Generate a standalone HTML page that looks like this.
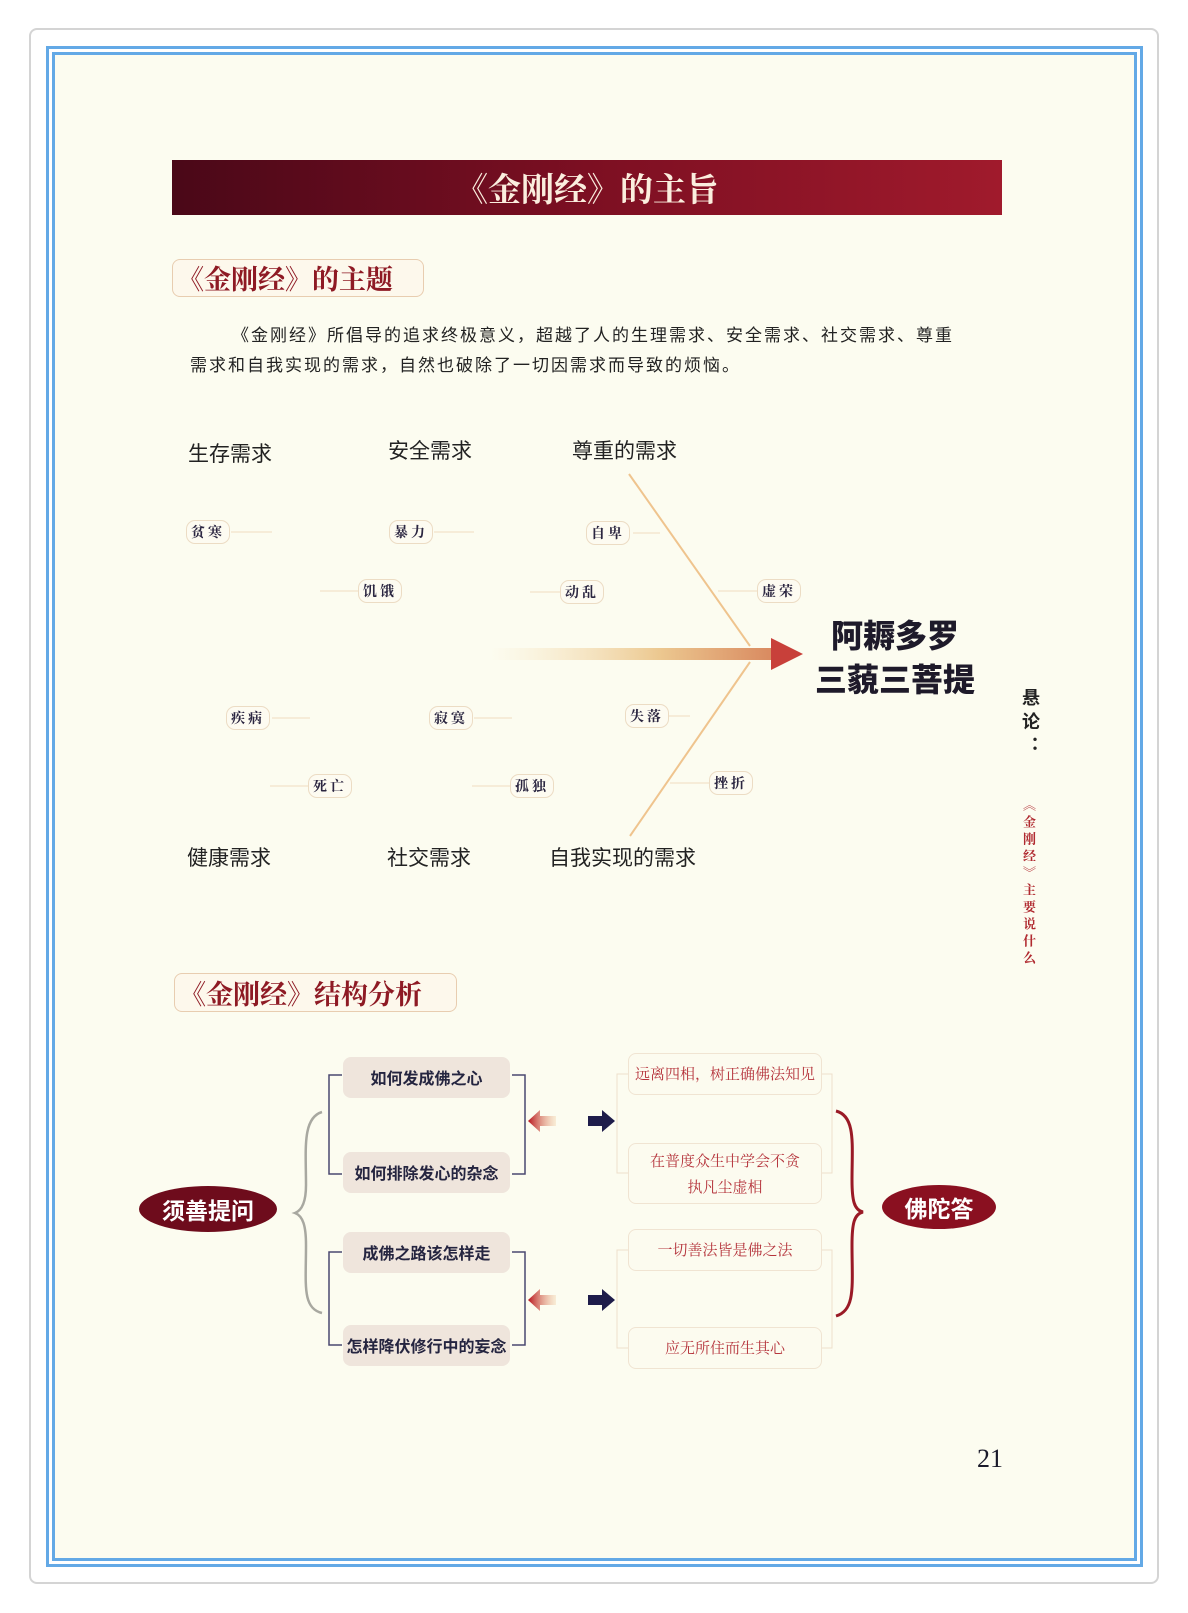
<!DOCTYPE html>
<html><head><meta charset="utf-8">
<style>
*{margin:0;padding:0;box-sizing:border-box}
body{width:1188px;height:1613px;background:#fff;position:relative;overflow:hidden;font-family:"Liberation Sans","Noto Sans CJK SC",sans-serif}
.a{position:absolute;white-space:nowrap}
.frame{position:absolute;left:29px;top:28px;width:1130px;height:1556px;border:2px solid #d4d4d4;border-radius:8px;background:#fff}
.b1{position:absolute;left:46px;top:46px;width:1097px;height:1521px;border:3px solid #63a9e6}
.b2{position:absolute;left:52px;top:52px;width:1085px;height:1509px;border:3px solid #63a9e6;background:#fcfcf0}
.cat{font-size:21px;color:#222;font-family:"Noto Sans CJK SC",sans-serif;transform:translateY(-50%)}
.tag{font-size:14px;color:#2a2540;font-family:"Noto Serif CJK SC",serif;font-weight:bold;border:1px solid #ecdcc4;border-radius:9px;height:24px;line-height:22px;padding:0 4px;transform:translateY(-50%);background:#fdfbf1;letter-spacing:3px}
.q{position:absolute;left:343px;width:167px;height:41px;background:#efe5dc;border-radius:8px;font-size:16px;font-weight:bold;color:#252540;text-align:center;line-height:41px;font-family:"Noto Sans CJK SC",sans-serif}
.ans{position:absolute;left:628px;width:194px;border:1px solid #f0e4d2;border-radius:8px;font-size:15px;color:#b5343c;text-align:center;font-family:"Noto Serif CJK SC",serif;background:#fcfbef}
.hd{position:absolute;border:1px solid #e8cdb0;border-radius:8px;color:#8e1a24;font-family:"Noto Serif CJK SC",serif;font-size:27px;font-weight:bold;padding-left:4px;background:#fdf8ec}
.p{font-size:17px;letter-spacing:2px;color:#222;font-family:'Noto Sans CJK SC',sans-serif}
</style></head><body>
<div class="frame"></div>
<div class="b1"></div>
<div class="b2"></div>

<div class="a" style="left:172px;top:160px;width:830px;height:55px;background:linear-gradient(90deg,#4a0818,#7c0f22 50%,#a01a2c);"></div>
<div class="a" style="left:172px;top:160px;width:830px;height:55px;line-height:55px;text-align:center;color:#fbeede;font-size:33px;font-weight:bold;font-family:'Noto Serif CJK SC',serif;">《金刚经》的主旨</div>

<div class="hd" style="left:172px;top:259px;width:252px;height:38px;line-height:36px">《金刚经》的主题</div>

<div class="a p" style="left:232px;top:321px">《金刚经》所倡导的追求终极意义，超越了人的生理需求、安全需求、社交需求、尊重</div>
<div class="a p" style="left:190px;top:351px">需求和自我实现的需求，自然也破除了一切因需求而导致的烦恼。</div>

<svg class="a" style="left:0;top:0" width="1188" height="1613">
<defs>
<linearGradient id="sh" x1="0" x2="1"><stop offset="0" stop-color="#f6e2b8" stop-opacity="0"/><stop offset="0.6" stop-color="#ecc890"/><stop offset="1" stop-color="#d98a60"/></linearGradient>
<linearGradient id="ra" x1="1" x2="0"><stop offset="0" stop-color="#f0c89a" stop-opacity="0.3"/><stop offset="1" stop-color="#b8141e"/></linearGradient>
</defs>
<g stroke="#f0dcc0" stroke-width="1">
<line x1="231" y1="532" x2="272" y2="532"/><line x1="434" y1="532" x2="474" y2="532"/><line x1="633" y1="533" x2="660" y2="533"/>
<line x1="320" y1="591" x2="358" y2="591"/><line x1="530" y1="592" x2="560" y2="592"/><line x1="718" y1="591" x2="757" y2="591"/>
<line x1="272" y1="718" x2="310" y2="718"/><line x1="474" y1="718" x2="512" y2="718"/><line x1="667" y1="716" x2="690" y2="716"/>
<line x1="270" y1="786" x2="308" y2="786"/><line x1="472" y1="786" x2="510" y2="786"/><line x1="670" y1="783" x2="709" y2="783"/>
</g>
<line x1="629" y1="474" x2="750" y2="646" stroke="#efc48e" stroke-width="2"/>
<line x1="750" y1="662" x2="630" y2="836" stroke="#efc48e" stroke-width="2"/>
<rect x="490" y="648" width="282" height="12" fill="url(#sh)"/>
<polygon points="771,638 803,654 771,670" fill="#c8403a"/>
<path d="M322,1112 C302,1118 306,1150 306,1185 C306,1200 303,1210 295,1213 C303,1216 306,1226 306,1245 C306,1285 302,1308 322,1313" fill="none" stroke="#a8a8a0" stroke-width="2.5"/>
<g fill="none" stroke="#4a4870" stroke-width="1.5">
<path d="M342,1075 H329 V1174 H342"/><path d="M512,1075 H525 V1174 H512"/>
<path d="M342,1252 H329 V1345 H342"/><path d="M512,1252 H525 V1345 H512"/>
</g>
<g fill="none" stroke="#eedfcb" stroke-width="1">
<path d="M628,1074 H617 V1173 H628"/><path d="M822,1074 H832 V1173 H822"/>
<path d="M628,1250 H617 V1348 H628"/><path d="M822,1250 H832 V1348 H822"/>
</g>
<polygon points="528,1121 540,1110 540,1116 556,1116 556,1126 540,1126 540,1132" fill="url(#ra)"/>
<polygon points="588,1116 602,1116 602,1110 615,1121 602,1132 602,1126 588,1126" fill="#1e1c4a"/>
<polygon points="528,1300 540,1289 540,1295 556,1295 556,1305 540,1305 540,1311" fill="url(#ra)"/>
<polygon points="588,1295 602,1295 602,1289 615,1300 602,1311 602,1305 588,1305" fill="#1e1c4a"/>
<path d="M836,1111 C856,1116 852,1145 852,1180 C852,1200 854,1210 863,1212 C854,1214 852,1224 852,1245 C852,1285 856,1310 836,1316" fill="none" stroke="#9a1a26" stroke-width="3"/>
<ellipse cx="208" cy="1209" rx="69" ry="23" fill="#6e0c1c"/>
<ellipse cx="939" cy="1207" rx="57" ry="22" fill="#8a1020"/>
</svg>

<div class="a cat" style="left:188px;top:453px">生存需求</div>
<div class="a cat" style="left:388px;top:450px">安全需求</div>
<div class="a cat" style="left:572px;top:450px">尊重的需求</div>
<div class="a cat" style="left:187px;top:857px">健康需求</div>
<div class="a cat" style="left:387px;top:857px">社交需求</div>
<div class="a cat" style="left:549px;top:857px">自我实现的需求</div>

<div class="a tag" style="left:186px;top:532px">贫寒</div>
<div class="a tag" style="left:389px;top:532px">暴力</div>
<div class="a tag" style="left:586px;top:533px">自卑</div>
<div class="a tag" style="left:358px;top:591px">饥饿</div>
<div class="a tag" style="left:560px;top:592px">动乱</div>
<div class="a tag" style="left:757px;top:591px">虚荣</div>
<div class="a tag" style="left:226px;top:718px">疾病</div>
<div class="a tag" style="left:429px;top:718px">寂寞</div>
<div class="a tag" style="left:625px;top:716px">失落</div>
<div class="a tag" style="left:308px;top:786px">死亡</div>
<div class="a tag" style="left:510px;top:786px">孤独</div>
<div class="a tag" style="left:709px;top:783px">挫折</div>

<div class="a" style="left:815px;top:612px;width:160px;text-align:center;font-size:32px;font-weight:900;color:#1e1a2a;line-height:44px;font-family:'Noto Sans CJK SC',sans-serif">阿耨多罗<br>三藐三菩提</div>

<div class="a" style="left:1018px;top:688px;writing-mode:vertical-rl;font-size:18px;font-weight:bold;color:#222;letter-spacing:6px;font-family:'Noto Sans CJK SC',sans-serif">悬论：</div>
<div class="a" style="left:1020px;top:798px;writing-mode:vertical-rl;font-size:13px;color:#b02a30;letter-spacing:4px;font-weight:bold;font-family:'Noto Serif CJK SC',serif">《金刚经》主要说什么</div>

<div class="hd" style="left:174px;top:973px;width:283px;height:39px;line-height:37px">《金刚经》结构分析</div>

<div class="q" style="top:1057px">如何发成佛之心</div>
<div class="q" style="top:1152px">如何排除发心的杂念</div>
<div class="q" style="top:1232px">成佛之路该怎样走</div>
<div class="q" style="top:1325px">怎样降伏修行中的妄念</div>

<div class="ans" style="top:1053px;height:42px;line-height:40px">远离四相，树正确佛法知见</div>
<div class="ans" style="top:1143px;height:61px;line-height:26px;padding-top:4px">在普度众生中学会不贪<br>执凡尘虚相</div>
<div class="ans" style="top:1229px;height:42px;line-height:40px">一切善法皆是佛之法</div>
<div class="ans" style="top:1327px;height:42px;line-height:40px">应无所住而生其心</div>

<div class="a" style="left:139px;top:1192px;width:138px;text-align:center;color:#fff;font-size:23px;font-weight:bold;font-family:'Noto Sans CJK SC',sans-serif;line-height:34px">须善提问</div>
<div class="a" style="left:882px;top:1190px;width:114px;text-align:center;color:#fff;font-size:23px;font-weight:bold;font-family:'Noto Sans CJK SC',sans-serif;line-height:34px">佛陀答</div>

<div class="a" style="left:977px;top:1444px;font-size:26px;color:#1a1a2a;font-family:'Liberation Serif',serif">21</div>
</body></html>
